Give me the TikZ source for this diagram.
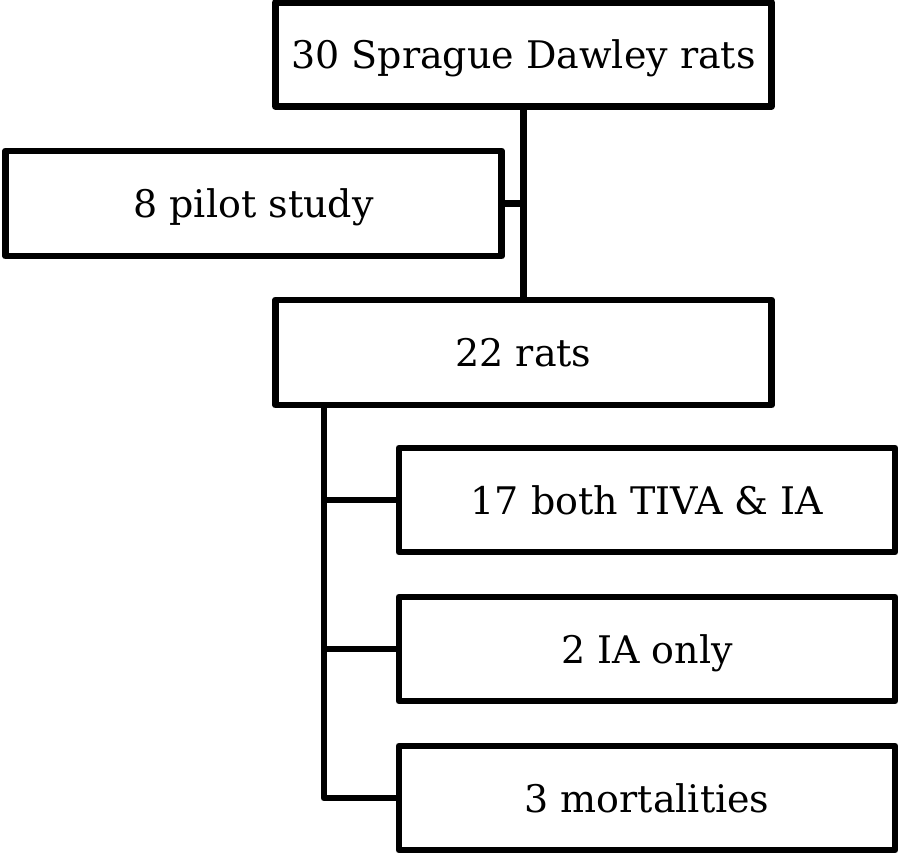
\documentclass[tikz,border=0pt]{standalone}
\usepackage{fontspec}
\setmainfont{DejaVu Serif}
\usetikzlibrary{positioning}

\begin{document}
\begin{tikzpicture}[x=0.5pt, y=-0.5pt,
		flowbox/.style={draw, line width=3.4pt, line join=round, minimum width=248pt, minimum height=52pt, inner sep=0pt, text depth=0pt, font=\fontsize{19}{22}\selectfont},
		link/.style={line width=3.4pt, line join=round}]
		\useasboundingbox (0,0) rectangle (901,854);

		% --- top: whole cohort and pilot split ---
		\node[flowbox] (all) at (523.5,54.5) {30 Sprague Dawley rats};
		\node[flowbox, minimum height=52.5pt] (pilot) at (253.5,203.5) {8 pilot study};
		\node[flowbox, minimum height=52.5pt] (rats) at (523.5,352.5) {22 rats};

		% --- bottom: outcome of the remaining rats ---
		\node[flowbox] (both) at (647,500) {17 both TIVA \& IA};
		\node[flowbox] (iaonly) at (647,649) {2 IA only};
		\node[flowbox] (mort) at (647,798) {3 mortalities};

		\draw[link] (all.south) -- (rats.north);
		\draw[link] (pilot.east) -- (pilot.east -| all.south);

		\coordinate (spine) at (324,405);
		\draw[link] (spine) |- (mort.west);
		\draw[link] (spine |- both.west) -- (both.west);
		\draw[link] (spine |- iaonly.west) -- (iaonly.west);
\end{tikzpicture}
\end{document}
